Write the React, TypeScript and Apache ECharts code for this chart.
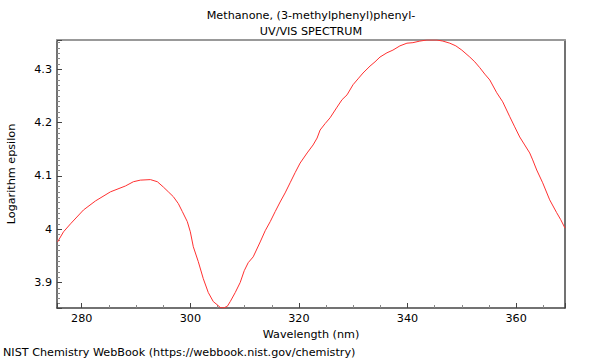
import React, { useEffect, useRef } from "react";
import * as echarts from "echarts";

const titleLines = ["Methanone, (3-methylphenyl)phenyl-", "UV/VIS SPECTRUM"];
const xName = "Wavelength (nm)";
const yName = "Logarithm epsilon";
const footer = "NIST Chemistry WebBook (https://webbook.nist.gov/chemistry)";

const wavelength = [
  275.55, 276.65, 277.94, 280.33, 282.54, 285.29, 288.05, 289.52, 290.8, 292.65,
  293.93, 295.04, 295.96, 296.87, 297.79, 298.53, 299.45, 300.0, 300.55, 301.47,
  302.39, 303.31, 304.23, 304.96, 305.51, 306.07, 306.8, 307.35, 308.27, 309.19,
  309.93, 310.66, 311.58, 312.87, 313.79, 314.71, 315.63, 316.54, 317.46, 318.38,
  319.3, 320.22, 321.51, 322.61, 323.35, 323.9, 324.82, 325.74, 327.02, 327.94,
  328.86, 329.96, 330.88, 331.8, 333.09, 334.01, 334.93, 336.21, 337.31, 338.6,
  339.89, 340.99, 342.28, 343.56, 345.4, 346.5, 347.79, 348.9, 350.0, 351.47,
  352.39, 353.31, 354.23, 355.15, 356.43, 357.53, 358.83, 359.74, 360.66, 361.58,
  362.5, 363.05, 363.79, 364.89, 366.18, 367.46, 368.2, 369.0,
];
const logEpsilon = [
  3.976, 3.995, 4.01, 4.036, 4.053, 4.07, 4.081, 4.089, 4.092, 4.093,
  4.089, 4.079, 4.07, 4.061, 4.048, 4.033, 4.014, 3.995, 3.967, 3.939,
  3.907, 3.881, 3.864, 3.858, 3.853, 3.852, 3.855, 3.864, 3.881, 3.9,
  3.922, 3.937, 3.948, 3.976, 3.997, 4.014, 4.033, 4.051, 4.068, 4.087,
  4.106, 4.124, 4.143, 4.158, 4.171, 4.186, 4.198, 4.209, 4.229, 4.243,
  4.252, 4.271, 4.282, 4.293, 4.306, 4.314, 4.323, 4.331, 4.336, 4.344,
  4.349, 4.35, 4.353, 4.355, 4.355, 4.353, 4.349, 4.344, 4.336, 4.323,
  4.314, 4.303, 4.291, 4.28, 4.256, 4.239, 4.211, 4.192, 4.173, 4.158,
  4.143, 4.13, 4.111, 4.087, 4.055, 4.031, 4.018, 4.002,
];

const X_MIN = 275.45;
const X_MAX = 369.0;
const Y_MIN = 3.852;
const Y_MAX = 4.355;

export default function App() {
  const ref = useRef<HTMLDivElement>(null);
  useEffect(() => {
    if (!ref.current) return;
    const chart = echarts.init(ref.current, null, { renderer: "svg" });
    const font = "DejaVu Sans";
    const fs = 11.2;
    const axisColor = "#444";
    chart.setOption({
      animation: false,
      backgroundColor: "#fff",
      textStyle: { fontFamily: font },
      grid: {
        left: 57,
        right: 35,
        top: 40,
        bottom: 52,
        containLabel: false,
        outerBoundsMode: "none",
      },
      graphic: [
        {
          type: "text",
          x: 311,
          y: 7,
          style: {
            text: titleLines.join("\n"),
            font: `${fs}px "${font}"`,
            fill: "#000",
            textAlign: "center",
            lineHeight: 16,
          },
        },
        {
          type: "text",
          x: 3,
          y: 347,
          style: { text: footer, font: `${fs}px "${font}"`, fill: "#000" },
        },
      ],
      xAxis: [
        {
          type: "value",
          min: X_MIN,
          max: X_MAX,
          splitNumber: 5,
          name: xName,
          nameLocation: "middle",
          nameGap: 18,
          nameTextStyle: { fontSize: fs, color: "#000", fontFamily: font },
          axisLine: { show: true, lineStyle: { color: axisColor, width: 1.5 } },
          axisTick: { show: true, inside: true, length: 5, lineStyle: { color: axisColor } },
          minorTick: { show: true, splitNumber: 4, length: 3, lineStyle: { color: "#888" } },
          axisLabel: {
            fontSize: fs,
            color: "#000",
            fontFamily: font,
            margin: 5,
            showMinLabel: false,
            showMaxLabel: false,
          },
          splitLine: { show: false },
        },
        {
          type: "value",
          position: "top",
          min: X_MIN,
          max: X_MAX,
          axisLine: { show: true, lineStyle: { color: "#999", width: 2 } },
          axisTick: { show: false },
          axisLabel: { show: false },
          splitLine: { show: false },
        },
      ],
      yAxis: [
        {
          type: "value",
          min: Y_MIN,
          max: Y_MAX,
          splitNumber: 5,
          name: yName,
          nameLocation: "middle",
          nameGap: 40,
          nameTextStyle: { fontSize: fs, color: "#000", fontFamily: font },
          axisLine: { show: true, lineStyle: { color: axisColor, width: 1.5 } },
          axisTick: { show: true, inside: true, length: 5, lineStyle: { color: axisColor } },
          minorTick: { show: true, splitNumber: 10, length: 3, lineStyle: { color: "#888" } },
          axisLabel: {
            fontSize: fs,
            color: "#000",
            fontFamily: font,
            margin: 5,
            showMinLabel: false,
            showMaxLabel: false,
            formatter: (v: number) => String(Math.round(v * 10) / 10),
          },
          splitLine: { show: false },
        },
        {
          type: "value",
          position: "right",
          min: Y_MIN,
          max: Y_MAX,
          axisLine: { show: true, lineStyle: { color: axisColor, width: 1.5 } },
          axisTick: { show: false },
          axisLabel: { show: false },
          splitLine: { show: false },
        },
      ],
      series: [
        {
          type: "line",
          data: wavelength.map((w, i) => [w, logEpsilon[i]]),
          showSymbol: false,
          symbol: "none",
          smooth: false,
          lineStyle: { color: "#ff3030", width: 1 },
          xAxisIndex: 0,
          yAxisIndex: 0,
        },
      ],
    });
    return () => chart.dispose();
  }, []);
  return (
    <div
      ref={ref}
      style={{ position: "fixed", left: 0, top: 0, width: 600, height: 360 }}
    />
  );
}
